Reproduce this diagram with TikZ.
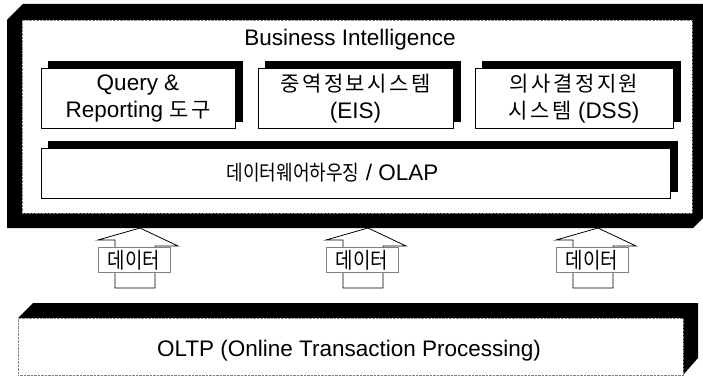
\documentclass[tikz,border=0pt]{standalone}
\usepackage{fontspec}
\setmainfont{Liberation Sans}
\newfontfamily\kr{Noto Sans CJK KR}[LetterSpace=12]
\newfontfamily\krtight{Noto Sans CJK KR}[FakeStretch=0.86]
\usetikzlibrary{shadows}

\tikzset{
  toolbox/.style={draw, line width=1pt, fill=white, align=center, inner sep=0pt,
    minimum height=59pt,
    copy shadow={shadow xshift=7pt, shadow yshift=7pt, fill=black, draw=black}},
  face/.style={draw=gray, densely dotted, fill=white, inner sep=0pt},
  datalabel/.style={draw=gray, line width=0.6pt, fill=white, inner sep=0pt,
    minimum width=72pt, minimum height=25pt, font=\fontsize{22}{24}\selectfont\krtight},
}

\begin{document}
\begin{tikzpicture}[x=1pt, y=-1pt, every node/.append style={font=\fontsize{22.5}{27}\selectfont}]
  \useasboundingbox (0,0) rectangle (703,377);

  % Business Intelligence frame
  \fill (7,20) -- (23,4) -- (703,4) -- (703,218) -- (693,228) -- (7,228) -- cycle;
  \node[face, minimum width=670pt, minimum height=193pt] (bi) at (357,116.5) {};
  \node (title) at (350,40) {Business Intelligence};

  \node[toolbox, minimum width=194pt] (query) at (138,98.5) {Query \&\\Reporting {\kr\fontsize{21}{27}\selectfont 도구}};
  \node[toolbox, minimum width=195pt] (eis) at (355.5,98.5) {{\kr\fontsize{21}{27}\selectfont 중역정보시스템}\\(EIS)};
  \node[toolbox, minimum width=198pt] (dss) at (574,98.5) {{\kr\fontsize{21}{27}\selectfont 의사결정지원}\\{\kr\fontsize{21}{27}\selectfont 시스템} (DSS)};
  \node[toolbox, minimum width=629pt, minimum height=50pt] (olap) at (355.5,173) {{\krtight\fontsize{21}{27}\selectfont 데이터웨어하우징} / OLAP\hspace{46pt}};

  % OLTP block
  \fill (18,318) -- (33,303) -- (698,303) -- (698,358) -- (683,375) -- (683,318) -- cycle;
  \node[face, minimum width=665pt, minimum height=57pt, anchor=north west] (oltp) at (18,318) {};
  \node (oltptext) at (349,351) {OLTP (Online Transaction Processing)};

  % data arrows
  \foreach \x [count=\i] in {140,368,598} {
    \draw[line width=0.8pt] (\x,228) -- (\x+38,246) -- (\x+15,246) -- (\x+15,288)
      -- (\x-25,288) -- (\x-25,240) -- (\x-42,240) -- cycle;
    \node[datalabel] (data\i) at (\x-6,260) {데이터};
  }
\end{tikzpicture}
\end{document}
